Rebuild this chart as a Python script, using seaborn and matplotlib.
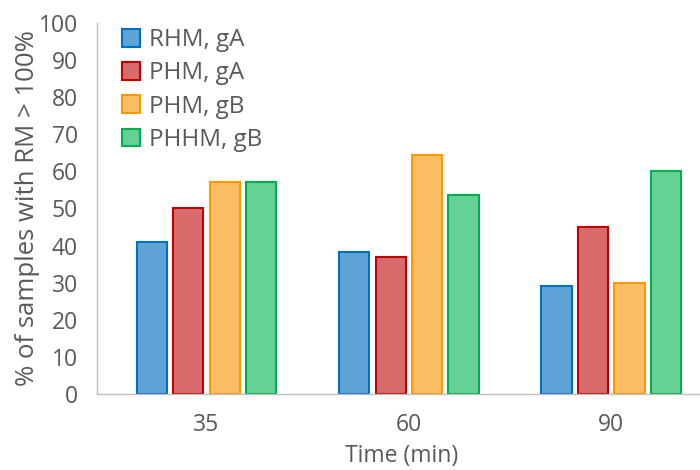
import matplotlib
matplotlib.use("Agg")
import matplotlib.pyplot as plt
import pandas as pd
import seaborn as sns

times = ["35", "60", "90"]
series = ["RHM, gA", "PHM, gA", "PHM, gB", "PHHM, gB"]
rhm_ga = [41.0, 38.2, 29.1]
phm_ga = [50.0, 37.0, 45.0]
phm_gb = [57.1, 64.4, 30.0]
phhm_gb = [57.1, 53.5, 60.2]

fills = ["#5FA3D7", "#D96B6C", "#FCBE64", "#66D195"]
edges = ["#0070C0", "#C00000", "#FF9900", "#00B050"]
grey = "#595959"

rows = []
for name, vals in zip(series, [rhm_ga, phm_ga, phm_gb, phhm_gb]):
    for t, v in zip(times, vals):
        rows.append({"time": t, "series": name, "value": v})
df = pd.DataFrame(rows)

sns.set_style("white")
plt.rcParams["font.family"] = ["Open Sans", "DejaVu Sans"]

fig = plt.figure(figsize=(7, 4.7), dpi=100)
ax = fig.add_axes([0.139, 0.162, 0.87, 0.789])

sns.barplot(data=df, x="time", y="value", hue="series", order=times,
            hue_order=series, palette=fills, width=0.72, gap=0.17,
            saturation=1, ax=ax)
for cont, ec in zip(ax.containers, edges):
    for bar in cont:
        bar.set_edgecolor(ec)
        bar.set_linewidth(1.5)

ax.set_ylim(0, 100)
ax.set_yticks(range(0, 101, 10))
ax.set_xlim(-0.54, 2.47)
ax.set_xlabel("Time (min)", fontsize=16.5, color=grey, labelpad=5)
ax.set_ylabel("% of samples with RM > 100%", fontsize=18.5, color=grey)
ax.yaxis.set_label_coords(-0.094, 0.5)
ax.tick_params(axis="y", length=4, color="#BFBFBF", labelsize=16.5, labelcolor=grey, pad=10)
ax.tick_params(axis="x", length=0, labelsize=16.5, labelcolor=grey, pad=14)
for s in ["top", "right"]:
    ax.spines[s].set_visible(False)
for s in ["left", "bottom"]:
    ax.spines[s].set_color("#BFBFBF")
    ax.spines[s].set_linewidth(1)

leg = ax.legend(loc="upper left", bbox_to_anchor=(0.005, 1.045), frameon=False,
                fontsize=17.5, handlelength=0.75, handleheight=0.75,
                handletextpad=0.35, labelspacing=0.38)
for t in leg.get_texts():
    t.set_color(grey)
for h, ec in zip(leg.legend_handles, edges):
    h.set_edgecolor(ec)
    h.set_linewidth(1.5)

fig.savefig("out.png", dpi=100)
